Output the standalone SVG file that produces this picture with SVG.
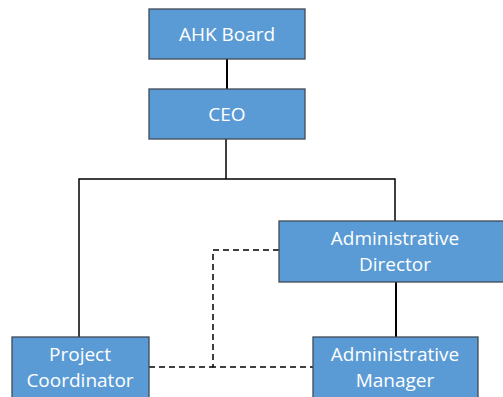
<svg xmlns="http://www.w3.org/2000/svg" width="503" height="397" viewBox="0 0 503 397">
  <style>
    .box { fill: #5b9bd5; stroke: #3f4a55; stroke-width: 1.3; }
    .lbl { fill: #ffffff; font-family: "Open Sans", "Liberation Sans", sans-serif; font-size: 19px; text-anchor: middle; }
    .solid { fill: none; stroke: #000000; stroke-width: 2; }
    .thin { fill: none; stroke: #000000; stroke-width: 1.5; }
    .dash { fill: none; stroke: #000000; stroke-width: 1.5; stroke-dasharray: 6 4; }
  </style>
  <rect width="503" height="397" fill="#ffffff"/>

  <!-- reporting lines -->
  <g id="connectors">
    <line class="solid" x1="227" y1="59" x2="227" y2="89"/>
    <polyline class="thin" points="226,139 226,179"/>
    <polyline class="thin" points="79,337 79,179 395,179 395,221"/>
    <line class="solid" x1="396" y1="282" x2="396" y2="337"/>
    <polyline class="dash" points="279,250 213,250 213,367 313,367"/>
    <line class="dash" x1="149" y1="367" x2="213" y2="367"/>
  </g>

  <g id="ahk-board">
    <rect class="box" x="149" y="9" width="156" height="50"/>
    <text class="lbl" x="227" y="41">AHK Board</text>
  </g>

  <g id="ceo">
    <rect class="box" x="149" y="89" width="156" height="50"/>
    <text class="lbl" x="227" y="121">CEO</text>
  </g>

  <g id="administrative-director">
    <rect class="box" x="279" y="221" width="233" height="61"/>
    <text class="lbl" x="395" y="245">Administrative</text>
    <text class="lbl" x="395" y="271">Director</text>
  </g>

  <g id="project-coordinator">
    <rect class="box" x="12" y="337" width="137" height="70"/>
    <text class="lbl" x="80" y="361">Project</text>
    <text class="lbl" x="80" y="387">Coordinator</text>
  </g>

  <g id="administrative-manager">
    <rect class="box" x="313" y="337" width="165" height="70"/>
    <text class="lbl" x="395" y="361">Administrative</text>
    <text class="lbl" x="395" y="387">Manager</text>
  </g>
</svg>
